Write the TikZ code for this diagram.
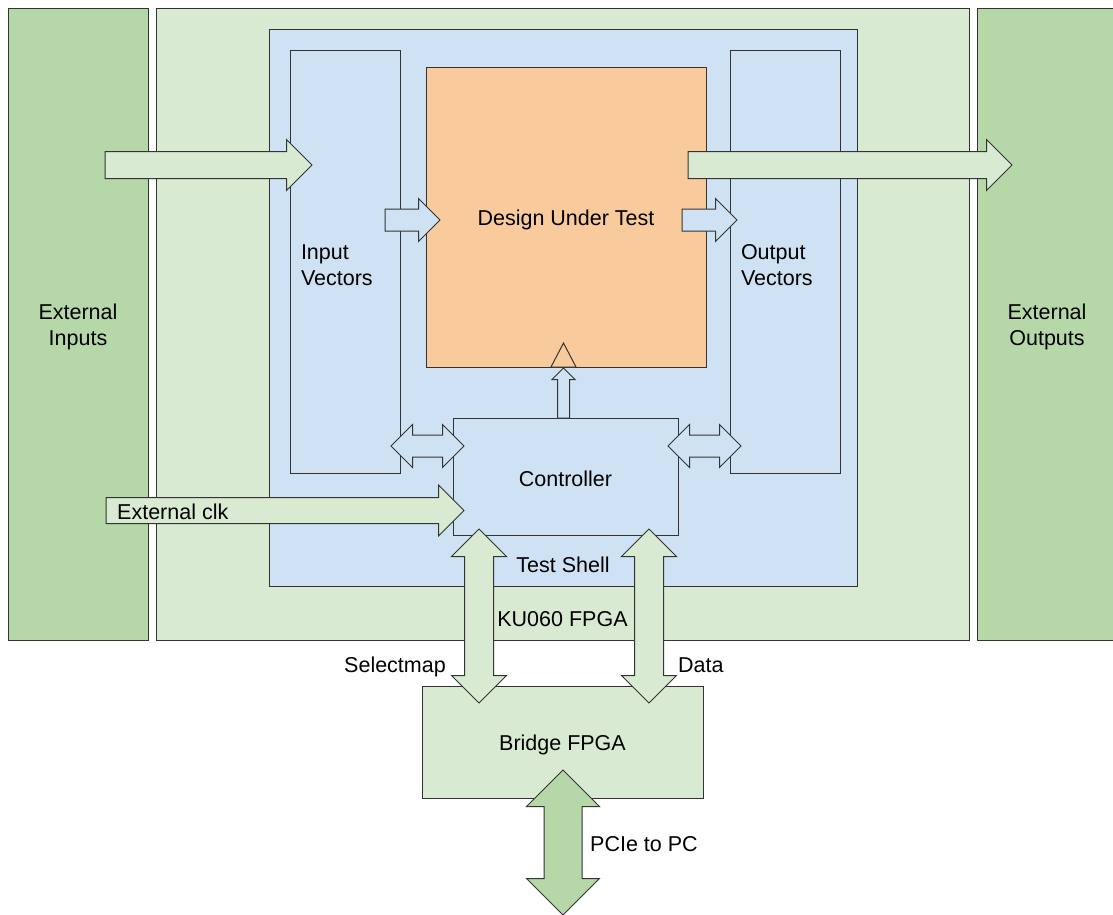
\documentclass[tikz,border=0pt]{standalone}
\usepackage{fontspec}
\setmainfont{Liberation Sans}
\usetikzlibrary{shapes.arrows,positioning,calc}
\definecolor{extgreen}{HTML}{B6D7A8}
\definecolor{fpgagreen}{HTML}{D9EAD3}
\definecolor{shellblue}{HTML}{CFE2F3}
\definecolor{dutorange}{HTML}{F9CB9C}
\definecolor{edge}{HTML}{333333}
\begin{document}
\begin{tikzpicture}[
    x=1pt, y=-1pt,
    font=\fontsize{21.5}{26}\selectfont,
    block/.style={draw=edge, line width=1pt, align=center, inner sep=0pt, outer sep=0pt, execute at begin node={\rule{0pt}{21pt}}},
    extbox/.style={block, fill=extgreen, text width=140pt, minimum height=631pt},
    vecbox/.style={block, fill=shellblue, align=left, text width=88pt, inner xsep=11pt, minimum height=422pt},
    fatarrow/.style={single arrow, draw=edge, line width=1pt, single arrow tip angle=90, inner xsep=0pt, outer sep=0pt, anchor=tail},
    twoway/.style={double arrow, draw=edge, line width=1pt, double arrow tip angle=90, inner xsep=0pt, outer sep=0pt},
    lbl/.style={inner sep=0pt}
]
\useasboundingbox (0,0) rectangle (1113,915);

% boards and blocks
\node[extbox] (extin) at (78,324.5) {External\\Inputs};
\node[block, fill=fpgagreen, minimum width=813pt, minimum height=631pt] (ku) at (562.5,324.5) {};
\node[extbox] (extout) at (1047,324.5) {External\\Outputs};
\node[block, fill=shellblue, minimum width=588pt, minimum height=556pt] (shell) at (563,308) {};
\node[vecbox] (invec) at (345,262) {Input\\Vectors};
\node[vecbox] (outvec) at (785,262) {Output\\Vectors};
\node[block, fill=dutorange, minimum width=280pt, minimum height=299pt] (dut) at (566,217.5) {Design Under Test};
\node[block, fill=shellblue, minimum width=225pt, minimum height=117pt] (ctrl) at (565.5,476.5) {Controller};
\node[block, fill=fpgagreen, minimum width=281pt, minimum height=112pt] (bridge) at (562.5,742) {Bridge FPGA};

% clock input of the DUT
\draw[draw=edge, fill=dutorange, line width=1pt] ($(dut.south)+(-15,0)$) -- ($(dut.south)+(-2.5,-24)$) -- ($(dut.south)+(10,0)$) -- cycle;

% one-way block arrows
\node[fatarrow, fill=fpgagreen, minimum height=207pt, inner ysep=13pt, single arrow head extend=12pt] (inarr) at (105,165) {};
\node[fatarrow, fill=fpgagreen, minimum height=324pt, inner ysep=13pt, single arrow head extend=12pt] (outarr) at (688,165) {};
\node[fatarrow, fill=shellblue, minimum height=55pt, inner ysep=10.5pt, single arrow head extend=10.5pt] (ivdut) at (385,220) {};
\node[fatarrow, fill=shellblue, minimum height=55pt, inner ysep=10.5pt, single arrow head extend=10.5pt] (dutov) at (682,220) {};
\node[fatarrow, fill=fpgagreen, minimum height=358pt, inner ysep=12.5pt, single arrow head extend=12.5pt] (clkarr) at (106,510.5) {};
\node[fatarrow, fill=shellblue, rotate=90, minimum height=50pt, inner ysep=5.5pt, single arrow head extend=5.5pt] (clkup) at ([xshift=-2pt]ctrl.north) {};

% two-way block arrows
\node[twoway, fill=shellblue, minimum height=73pt, inner ysep=10.5pt, double arrow head extend=10.5pt] (ivctrl) at (427.5,446) {};
\node[twoway, fill=shellblue, minimum height=73pt, inner ysep=10.5pt, double arrow head extend=10.5pt] (ctrlov) at (704.5,446) {};
\node[twoway, fill=fpgagreen, rotate=90, minimum height=174pt, inner ysep=14pt, double arrow head extend=13pt] (selmap) at (479,616) {};
\node[twoway, fill=fpgagreen, rotate=90, minimum height=174pt, inner ysep=14pt, double arrow head extend=13pt] (dataarr) at (649,616) {};
\node[twoway, fill=extgreen, rotate=90, minimum height=145pt, inner ysep=18.5pt, double arrow head extend=17.5pt] (pcie) at (563,842.5) {};

% labels
\node[lbl, anchor=base west] at (117,519) {External clk};
\node[lbl, anchor=base] at ([yshift=14pt]shell.south) {Test Shell};
\node[lbl, anchor=base] at ([yshift=14pt]ku.south) {KU060 FPGA};
\node[lbl, anchor=base east] at (446,672) {Selectmap};
\node[lbl, anchor=base west] at (678,672) {Data};
\node[lbl, anchor=base west] at (590,851) {PCIe to PC};
\end{tikzpicture}
\end{document}
